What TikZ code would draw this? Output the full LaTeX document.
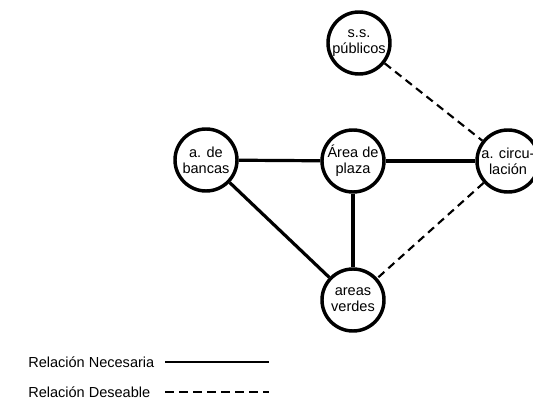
\documentclass[tikz,border=0pt]{standalone}
\usepackage{fontspec}
\setmainfont{Liberation Sans}
\begin{document}
\begin{tikzpicture}[x=0.75pt,y=-0.75pt,
  zone/.style={circle,draw,line width=2.6pt,fill=white,minimum size=46.5pt,inner sep=0pt,align=center,font=\fontsize{10.9pt}{12pt}\selectfont},
  need/.style={line width=2.4pt},
  wish/.style={line width=1.6pt,dash pattern=on 6pt off 4pt},
  legtext/.style={anchor=west,inner sep=0pt,font=\fontsize{10.9pt}{12pt}\selectfont}]
\useasboundingbox (0,0) rectangle (533,403);
\node[zone] (ss) at (359,43) {s.s.\\públicos};
\node[zone] (ban) at (206,160) {a. de\\bancas};
\node[zone] (pla) at (353,161) {Área de\\plaza};
\node[zone] (cir) at (508,161) {a. circu-\\lación};
\node[zone] (ver) at (353,300) {areas\\verdes};
\draw[need] (ban) -- (pla);
\draw[need] (pla) -- (cir);
\draw[need] (pla) -- (ver);
\draw[need] (ban) -- (ver);
\draw[wish] (ss) -- (cir);
\draw[wish] (cir) -- (ver);
\node[legtext] (l1) at (28,362) {Relación Necesaria};
\node[legtext] (l2) at (28,392) {Relación Deseable};
\coordinate (a1) at (165,362);
\coordinate (b1) at (269,362);
\coordinate (a2) at (165,392);
\coordinate (b2) at (269,392);
\draw[line width=2.2pt] (a1) -- (b1);
\draw[line width=1.1pt,dash pattern=on 6.75pt off 3.75pt] (a2) -- (b2);
\end{tikzpicture}
\end{document}
